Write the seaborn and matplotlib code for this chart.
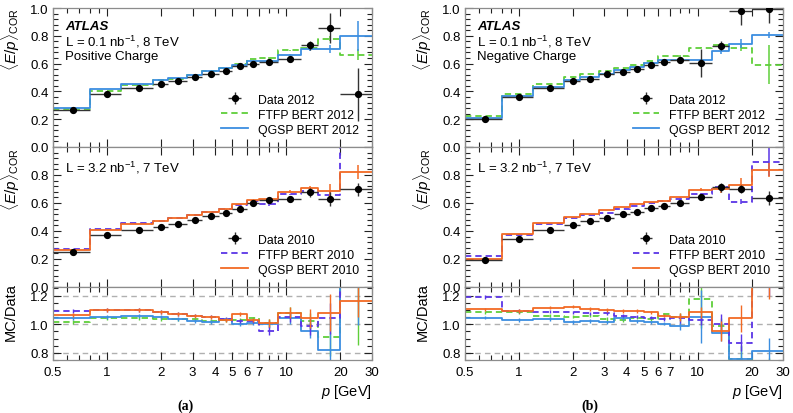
import numpy as np
import matplotlib
matplotlib.use("Agg")
import matplotlib.pyplot as plt
import seaborn as sns
from matplotlib.ticker import FixedLocator, FixedFormatter, MultipleLocator, NullFormatter

# momentum bins [GeV]
edges = [0.5, 0.8, 1.2, 1.8, 2.2, 2.8, 3.4, 4.2, 5.0, 6.0, 7.0, 9.0, 12.0, 15.0, 20.0, 30.0]
xtick_vals = [0.5, 1, 2, 3, 4, 5, 6, 7, 10, 20, 30]
xtick_labels = ["0.5", "1", "2", "3", "4", "5", "6", "7", "10", "20", "30"]

# ---- (a) positive charge ----
data12_pos = [0.268, 0.384, 0.427, 0.451, 0.472, 0.501, 0.528, 0.547, 0.583, 0.600, 0.611, 0.636, 0.731, 0.856, 0.379]
data12_pos_err = [0.005, 0.005, 0.005, 0.005, 0.005, 0.005, 0.005, 0.005, 0.006, 0.008, 0.008, 0.015, 0.03, 0.11, 0.19]
ftfp12_pos = [0.274, 0.405, 0.445, 0.480, 0.490, 0.515, 0.545, 0.570, 0.600, 0.632, 0.640, 0.695, 0.710, 0.780, 0.665]
ftfp12_pos_err = [0, 0, 0, 0, 0, 0, 0, 0, 0, 0, 0.005, 0.005, 0.01, 0.02, 0.04]
qgsp12_pos = [0.280, 0.415, 0.453, 0.484, 0.496, 0.520, 0.544, 0.566, 0.592, 0.621, 0.621, 0.664, 0.703, 0.703, 0.800]
qgsp12_pos_err = [0, 0, 0, 0, 0, 0, 0, 0, 0, 0, 0.005, 0.005, 0.01, 0.03, 0.11]

data10_pos = [0.250, 0.370, 0.405, 0.432, 0.453, 0.482, 0.505, 0.530, 0.555, 0.598, 0.620, 0.628, 0.676, 0.628, 0.697]
data10_pos_err = [0.005, 0.005, 0.005, 0.005, 0.005, 0.005, 0.005, 0.005, 0.006, 0.008, 0.008, 0.012, 0.03, 0.05, 0.045]
ftfp10_pos = [0.268, 0.412, 0.455, 0.472, 0.495, 0.514, 0.538, 0.556, 0.585, 0.615, 0.592, 0.662, 0.685, 0.658, 1.10]
ftfp10_pos_err = [0, 0, 0, 0, 0, 0, 0, 0, 0, 0, 0.01, 0.005, 0.02, 0.03, 0.1]
qgsp10_pos = [0.262, 0.408, 0.452, 0.472, 0.492, 0.511, 0.535, 0.554, 0.592, 0.622, 0.626, 0.680, 0.705, 0.686, 0.820]
qgsp10_pos_err = [0, 0, 0, 0, 0, 0, 0, 0, 0, 0, 0.005, 0.01, 0.02, 0.05, 0.05]

ratio_ftfp12_pos = [1.014, 1.042, 1.042, 1.037, 1.033, 1.033, 1.023, 1.026, 1.030, 1.040, 1.010, 1.080, 1.020, 0.910, 1.75]
ratio_qgsp12_pos = [1.042, 1.050, 1.056, 1.050, 1.037, 1.023, 1.014, 1.033, 1.000, 1.010, 1.000, 1.040, 0.956, 0.823, 2.10]
ratio_ftfp10_pos = [1.093, 1.100, 1.100, 1.084, 1.070, 1.060, 1.053, 1.037, 1.023, 1.020, 0.956, 1.050, 0.986, 1.040, 1.60]
ratio_qgsp10_pos = [1.065, 1.100, 1.100, 1.084, 1.070, 1.056, 1.050, 1.030, 1.070, 1.030, 1.010, 1.080, 1.040, 1.080, 1.165]

# ---- (b) negative charge ----
data12_neg = [0.200, 0.360, 0.425, 0.475, 0.492, 0.526, 0.538, 0.564, 0.593, 0.612, 0.624, 0.607, 0.730, 0.978, 0.990]
data12_neg_err = [0.005, 0.005, 0.005, 0.005, 0.005, 0.005, 0.005, 0.005, 0.006, 0.008, 0.008, 0.10, 0.03, 0.10, 0.10]
ftfp12_neg = [0.224, 0.384, 0.456, 0.502, 0.528, 0.547, 0.569, 0.593, 0.617, 0.655, 0.655, 0.715, 0.732, 0.713, 0.593]
ftfp12_neg_err = [0, 0, 0, 0, 0, 0, 0, 0, 0, 0, 0.005, 0.005, 0.01, 0.02, 0.14]
qgsp12_neg = [0.212, 0.367, 0.430, 0.480, 0.504, 0.523, 0.552, 0.576, 0.605, 0.624, 0.624, 0.625, 0.689, 0.744, 0.805]
qgsp12_neg_err = [0, 0, 0, 0, 0, 0, 0, 0, 0, 0, 0.005, 0.005, 0.02, 0.03, 0.02]

data10_neg = [0.190, 0.346, 0.409, 0.443, 0.471, 0.493, 0.519, 0.534, 0.562, 0.579, 0.603, 0.646, 0.711, 0.699, 0.634]
data10_neg_err = [0.005, 0.005, 0.005, 0.005, 0.005, 0.005, 0.005, 0.005, 0.006, 0.008, 0.008, 0.012, 0.03, 0.03, 0.05]
ftfp10_neg = [0.219, 0.375, 0.452, 0.490, 0.514, 0.531, 0.555, 0.579, 0.603, 0.615, 0.627, 0.663, 0.711, 0.610, 0.890]
ftfp10_neg_err = [0, 0, 0, 0, 0, 0, 0, 0, 0, 0, 0.005, 0.005, 0.02, 0.02, 0.1]
qgsp10_neg = [0.203, 0.380, 0.459, 0.502, 0.524, 0.548, 0.572, 0.596, 0.610, 0.615, 0.640, 0.695, 0.700, 0.728, 0.838]
qgsp10_neg_err = [0, 0, 0, 0, 0, 0, 0, 0, 0, 0, 0.005, 0.01, 0.03, 0.05, 0.05]

ratio_ftfp12_neg = [1.082, 1.082, 1.059, 1.052, 1.059, 1.035, 1.028, 1.045, 1.035, 1.068, 1.052, 1.176, 0.990, 0.760, 0.60]
ratio_qgsp12_neg = [1.045, 1.028, 1.035, 1.016, 1.021, 1.012, 1.040, 1.020, 1.012, 1.005, 0.988, 1.052, 0.940, 0.754, 0.810]
ratio_ftfp10_neg = [1.190, 1.091, 1.087, 1.082, 1.075, 1.075, 1.059, 1.052, 1.045, 1.035, 1.040, 1.028, 1.005, 0.870, 1.40]
ratio_qgsp10_neg = [1.103, 1.091, 1.115, 1.122, 1.105, 1.098, 1.091, 1.091, 1.082, 1.059, 1.052, 1.082, 0.950, 1.040, 1.32]

c_ftfp12 = "#5fcf3a"
c_qgsp12 = "#3b8ee0"
c_ftfp10 = "#5a35e6"
c_qgsp10 = "#f26a24"
dash = (0, (3.5, 2.2))

W, H = 793, 414
plt.rcParams["font.family"] = ["Liberation Sans", "DejaVu Sans"]
plt.rcParams["mathtext.fontset"] = "custom"
plt.rcParams["mathtext.rm"] = "Liberation Sans"
plt.rcParams["mathtext.it"] = "Liberation Sans:italic"
plt.rcParams["font.size"] = 9

fig = plt.figure(figsize=(W / 100, H / 100), dpi=100)

centers = np.array([(a + b) / 2 for a, b in zip(edges[:-1], edges[1:])])
halfw = np.array([(b - a) / 2 for a, b in zip(edges[:-1], edges[1:])])


def pax(x0, y0, x1, y1):
    return fig.add_axes([x0 / W, 1 - y1 / H, (x1 - x0) / W, (y1 - y0) / H])


def hist(ax, vals, errs, color, ls, label):
    y = list(vals) + [vals[-1]]
    sns.lineplot(x=edges, y=y, drawstyle="steps-post", color=color, linestyle=ls, lw=1.3,
                 ax=ax, sort=False, estimator=None, errorbar=None, legend=False)
    e = np.array(errs)
    m = e > 0
    ax.errorbar(centers[m], np.array(vals)[m], yerr=e[m], fmt="none", ecolor=color, elinewidth=1.1)
    return plt.Line2D([], [], color=color, linestyle=ls, lw=1.3, label=label)


def data_pts(ax, vals, errs, label):
    return ax.errorbar(centers, vals, xerr=halfw, yerr=errs, fmt="o", ms=4.2, color="black",
                       ecolor="#333333", elinewidth=1.0, zorder=5, label=label)


def style(ax, ylim, yticks, ylabels, minor):
    ax.set_xscale("log")
    ax.set_xlim(0.5, 30)
    ax.set_ylim(*ylim)
    ax.xaxis.set_major_locator(FixedLocator(xtick_vals))
    ax.xaxis.set_minor_locator(FixedLocator([0.6, 0.7, 0.8, 0.9, 8, 9]))
    ax.xaxis.set_minor_formatter(NullFormatter())
    ax.set_yticks(yticks)
    ax.set_yticklabels(ylabels)
    ax.yaxis.set_minor_locator(MultipleLocator(minor))
    ax.tick_params(which="both", direction="in", top=True, right=True, color="#222222",
                   labelsize=9.5, pad=3)
    ax.tick_params(which="major", length=6, width=0.8)
    ax.tick_params(which="minor", length=3.5, width=0.8)
    for s in ax.spines.values():
        s.set_color("#8c8c8c")
        s.set_linewidth(0.9)
    ax.set_xlabel("")
    ax.set_ylabel("")


def legend(ax, handles):
    ax.legend(handles=handles, loc="lower left", bbox_to_anchor=(0.50, 0.02), frameon=False,
              fontsize=8.8, handlelength=2.2, handletextpad=0.8, labelspacing=0.25, borderpad=0.2)


panels = [
    dict(x0=53, x1=372, lab="(a)", labx=185, charge="Positive Charge",
         d12=data12_pos, d12e=data12_pos_err, f12=ftfp12_pos, f12e=ftfp12_pos_err, q12=qgsp12_pos, q12e=qgsp12_pos_err,
         d10=data10_pos, d10e=data10_pos_err, f10=ftfp10_pos, f10e=ftfp10_pos_err, q10=qgsp10_pos, q10e=qgsp10_pos_err,
         rf12=ratio_ftfp12_pos, rq12=ratio_qgsp12_pos, rf10=ratio_ftfp10_pos, rq10=ratio_qgsp10_pos),
    dict(x0=465, x1=783, lab="(b)", labx=590, charge="Negative Charge",
         d12=data12_neg, d12e=data12_neg_err, f12=ftfp12_neg, f12e=ftfp12_neg_err, q12=qgsp12_neg, q12e=qgsp12_neg_err,
         d10=data10_neg, d10e=data10_neg_err, f10=ftfp10_neg, f10e=ftfp10_neg_err, q10=qgsp10_neg, q10e=qgsp10_neg_err,
         rf12=ratio_ftfp12_neg, rq12=ratio_qgsp12_neg, rf10=ratio_ftfp10_neg, rq10=ratio_qgsp10_neg),
]

ep_label = r"$\langle E/p\rangle_{\rm COR}$"
yt = [0.0, 0.2, 0.4, 0.6, 0.8, 1.0]

for p in panels:
    x0, x1 = p["x0"], p["x1"]
    ax1 = pax(x0, 9, x1, 148)
    ax2 = pax(x0, 148, x1, 288)
    ax3 = pax(x0, 288, x1, 361)

    # 2012 panel
    hf = hist(ax1, p["f12"], p["f12e"], c_ftfp12, dash, "FTFP BERT 2012")
    hq = hist(ax1, p["q12"], p["q12e"], c_qgsp12, "-", "QGSP BERT 2012")
    hd = data_pts(ax1, p["d12"], p["d12e"], "Data 2012")
    style(ax1, (0, 1.0), yt, ["0.0", "0.2", "0.4", "0.6", "0.8", "1.0"], 0.04)
    ax1.tick_params(labelbottom=False)
    legend(ax1, [hd, hf, hq])
    ax1.text(0.038, 0.87, "ATLAS", transform=ax1.transAxes, fontsize=9.5, fontweight="bold",
             fontstyle="italic", va="center")
    ax1.text(0.038, 0.763, "L = 0.1 nb$^{-1}$, 8 TeV", transform=ax1.transAxes, fontsize=9.5, va="center")
    ax1.text(0.038, 0.655, p["charge"], transform=ax1.transAxes, fontsize=9.5, va="center")

    # 2010 panel
    hf = hist(ax2, p["f10"], p["f10e"], c_ftfp10, dash, "FTFP BERT 2010")
    hq = hist(ax2, p["q10"], p["q10e"], c_qgsp10, "-", "QGSP BERT 2010")
    hd = data_pts(ax2, p["d10"], p["d10e"], "Data 2010")
    style(ax2, (0, 1.0), yt, ["0.0", "0.2", "0.4", "0.6", "0.8", ""], 0.04)
    ax2.tick_params(labelbottom=False)
    legend(ax2, [hd, hf, hq])
    ax2.text(0.038, 0.857, "L = 3.2 nb$^{-1}$, 7 TeV", transform=ax2.transAxes, fontsize=9.5, va="center")

    # ratio panel
    for yl in (0.8, 1.0, 1.2):
        ax3.axhline(yl, color="#b0b0b0", lw=1.0, ls=(0, (4, 3)), zorder=0)
    ratio_sets = [
        (p["rf12"], p["f12"], p["f12e"], p["d12"], p["d12e"], c_ftfp12, dash),
        (p["rq12"], p["q12"], p["q12e"], p["d12"], p["d12e"], c_qgsp12, "-"),
        (p["rf10"], p["f10"], p["f10e"], p["d10"], p["d10e"], c_ftfp10, dash),
        (p["rq10"], p["q10"], p["q10e"], p["d10"], p["d10e"], c_qgsp10, "-"),
    ]
    for r, mc, mce, d, de, col, ls in ratio_sets:
        r = np.array(r)
        rel = np.sqrt((np.array(mce) / np.array(mc)) ** 2 + (np.array(de) / np.array(d)) ** 2)
        rel[:10] = 0.0
        y = list(r) + [r[-1]]
        sns.lineplot(x=edges, y=y, drawstyle="steps-post", color=col, linestyle=ls, lw=1.3,
                     ax=ax3, sort=False, estimator=None, errorbar=None, legend=False)
        ax3.errorbar(centers, r, yerr=r * rel + 0.012, fmt="none", ecolor=col, elinewidth=1.0)
    style(ax3, (0.75, 1.26), [0.8, 1.0, 1.2], ["0.8", "1.0", "1.2"], 0.05)
    ax3.xaxis.set_major_formatter(FixedFormatter(xtick_labels))
    ax3.tick_params(axis="x", pad=4)

    # axis titles
    fig.text(x1 / W, 1 - 392 / H, "$p$ [GeV]", ha="right", va="center", fontsize=10.5)
    fig.text(p["labx"] / W, 1 - 406 / H, p["lab"], ha="center", va="center", fontsize=10,
             fontweight="bold", family=["Liberation Serif", "DejaVu Serif"])
    ylx = (x0 - 42) / W
    fig.text(ylx, 1 - 8 / H, ep_label, rotation=90, ha="center", va="top", fontsize=11)
    fig.text(ylx, 1 - 148 / H, ep_label, rotation=90, ha="center", va="top", fontsize=11)
    fig.text(ylx, 1 - 283 / H, "MC/Data", rotation=90, ha="center", va="top", fontsize=10.5)

fig.savefig("out.png", dpi=100)
